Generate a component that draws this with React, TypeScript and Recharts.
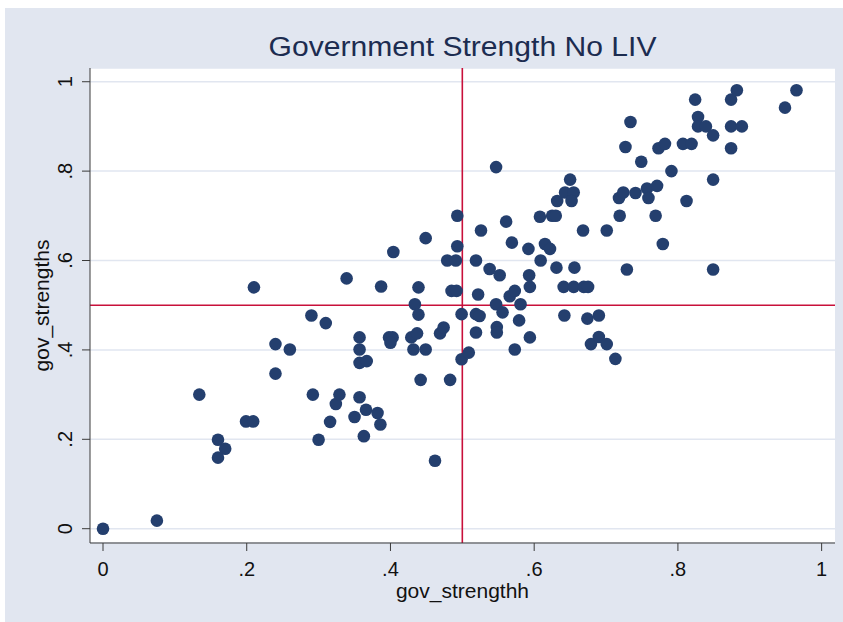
import { ScatterChart, Scatter, XAxis, YAxis, CartesianGrid, ReferenceLine } from 'recharts';

// gov_strengthh (x) and gov_strengths (y)
const govStrengthH = [
  0, 0.075, 0.134, 0.16, 0.17, 0.16, 0.199, 0.209, 0.21, 0.24,
  0.24, 0.26, 0.29, 0.292, 0.3, 0.31, 0.316, 0.324, 0.329, 0.339,
  0.35, 0.357, 0.357, 0.357, 0.367, 0.357, 0.366, 0.363, 0.382, 0.386,
  0.387, 0.398, 0.403, 0.4, 0.404, 0.429, 0.437, 0.432, 0.434, 0.439,
  0.439, 0.442, 0.449, 0.449, 0.462, 0.469, 0.474, 0.479, 0.491, 0.483,
  0.485, 0.492, 0.493, 0.493, 0.499, 0.499, 0.509, 0.519, 0.519, 0.524,
  0.519, 0.522, 0.526, 0.538, 0.547, 0.547, 0.548, 0.548, 0.552, 0.556,
  0.561, 0.566, 0.573, 0.569, 0.573, 0.579, 0.581, 0.592, 0.593, 0.594,
  0.594, 0.608, 0.609, 0.615, 0.622, 0.625, 0.63, 0.631, 0.632, 0.641,
  0.642, 0.643, 0.655, 0.65, 0.652, 0.655, 0.656, 0.668, 0.669, 0.675,
  0.674, 0.679, 0.69, 0.69, 0.701, 0.701, 0.713, 0.719, 0.718, 0.724,
  0.727, 0.729, 0.734, 0.741, 0.749, 0.757, 0.759, 0.769, 0.771, 0.773,
  0.779, 0.782, 0.791, 0.807, 0.812, 0.819, 0.824, 0.828, 0.828, 0.839,
  0.849, 0.849, 0.849, 0.874, 0.874, 0.874, 0.882, 0.889, 0.949, 0.965,
];
const govStrengthS = [
  0, 0.018, 0.3, 0.199, 0.179, 0.159, 0.24, 0.24, 0.54, 0.413,
  0.347, 0.401, 0.477, 0.3, 0.199, 0.46, 0.239, 0.279, 0.3, 0.56,
  0.25, 0.428, 0.401, 0.371, 0.375, 0.294, 0.266, 0.207, 0.259, 0.233,
  0.542, 0.428, 0.428, 0.416, 0.619, 0.428, 0.437, 0.401, 0.502, 0.54,
  0.479, 0.333, 0.401, 0.65, 0.152, 0.437, 0.45, 0.6, 0.6, 0.333,
  0.532, 0.532, 0.632, 0.7, 0.48, 0.379, 0.394, 0.6, 0.48, 0.476,
  0.439, 0.524, 0.667, 0.581, 0.809, 0.502, 0.451, 0.439, 0.567, 0.484,
  0.687, 0.52, 0.532, 0.64, 0.401, 0.466, 0.502, 0.626, 0.567, 0.541,
  0.428, 0.698, 0.6, 0.637, 0.626, 0.7, 0.7, 0.584, 0.733, 0.541,
  0.477, 0.752, 0.752, 0.781, 0.733, 0.541, 0.584, 0.667, 0.541, 0.541,
  0.47, 0.413, 0.477, 0.429, 0.667, 0.413, 0.38, 0.7, 0.74, 0.752,
  0.854, 0.58, 0.91, 0.751, 0.821, 0.761, 0.74, 0.7, 0.767, 0.851,
  0.637, 0.861, 0.8, 0.861, 0.733, 0.861, 0.96, 0.921, 0.9, 0.9,
  0.88, 0.781, 0.58, 0.96, 0.9, 0.851, 0.981, 0.9, 0.942, 0.981,
];
const TICKS = [0, 0.2, 0.4, 0.6, 0.8, 1];
const TICK_LABELS = ['0', '.2', '.4', '.6', '.8', '1'];

const data = govStrengthH.map((x, i) => ({ x, y: govStrengthS[i] }));

const FONT = '"Liberation Sans", Arial, sans-serif';
const NAVY = '#243f6e';
const RED = '#c8103a';
const AXIS = '#3a3a3a';

const tickLabel = (v: number) => TICK_LABELS[TICKS.indexOf(v)] ?? String(v);

const XTick = ({ x, y, payload }: any) => (
  <text x={x} y={y} dy={23} textAnchor="middle" fontSize={20} fontFamily={FONT} fill="#111">
    {tickLabel(payload.value)}
  </text>
);

const YTick = ({ x, y, payload }: any) => (
  <text
    x={x - 8}
    y={y}
    transform={`rotate(-90, ${x - 8}, ${y})`}
    textAnchor="middle"
    fontSize={20}
    fontFamily={FONT}
    fill="#111"
  >
    {tickLabel(payload.value)}
  </text>
);

const Dot = ({ cx, cy }: any) => <circle cx={cx} cy={cy} r={6.3} fill={NAVY} />;

export default function App() {
  return (
    <div style={{ position: 'absolute', left: 0, top: 0, width: 843, height: 622, background: '#fff' }}>
      <div style={{ position: 'absolute', left: 5, top: 8, width: 838, height: 614, background: '#e1e6f0' }} />
      <svg style={{ position: 'absolute', left: 0, top: 0 }} width={843} height={68}>
        <text
          x={462.5}
          y={56}
          textAnchor="middle"
          fontSize={27}
          fontFamily={FONT}
          fill="#1c2c50"
          textLength={388}
          lengthAdjust="spacingAndGlyphs"
        >
          Government Strength No LIV
        </text>
      </svg>
      <div style={{ position: 'absolute', left: 0, top: 0 }}>
        <ScatterChart width={843} height={622} margin={{ top: 68, right: 8, left: 0, bottom: 0 }}>
          <CartesianGrid vertical={false} stroke="#e1e6f0" strokeWidth={1.5} fill="#fff" />
          <XAxis
            type="number"
            dataKey="x"
            domain={[-0.0181, 1.0186]}
            ticks={TICKS}
            height={79}
            tickSize={8}
            tick={<XTick />}
            stroke={AXIS}
            allowDataOverflow
            label={{
              content: ({ viewBox }: any) => (
                <text
                  x={viewBox.x + viewBox.width / 2}
                  y={viewBox.y + 55}
                  textAnchor="middle"
                  fontSize={21}
                  fontFamily={FONT}
                  fill="#111"
                >
                  gov_strengthh
                </text>
              ),
            }}
          />
          <YAxis
            type="number"
            dataKey="y"
            domain={[-0.032, 1.0307]}
            ticks={TICKS}
            width={90}
            tickSize={8}
            tick={<YTick />}
            stroke={AXIS}
            allowDataOverflow
            label={{
              content: ({ viewBox }: any) => {
                const cy = viewBox.y + viewBox.height / 2;
                return (
                  <text
                    x={49}
                    y={cy}
                    transform={`rotate(-90, 49, ${cy})`}
                    textAnchor="middle"
                    fontSize={21}
                    fontFamily={FONT}
                    fill="#111"
                  >
                    gov_strengths
                  </text>
                );
              },
            }}
          />
          <ReferenceLine x={0.5} stroke={RED} strokeWidth={1.6} />
          <ReferenceLine y={0.5} stroke={RED} strokeWidth={1.6} />
          <Scatter data={data} shape={<Dot />} isAnimationActive={false} />
        </ScatterChart>
      </div>
    </div>
  );
}
